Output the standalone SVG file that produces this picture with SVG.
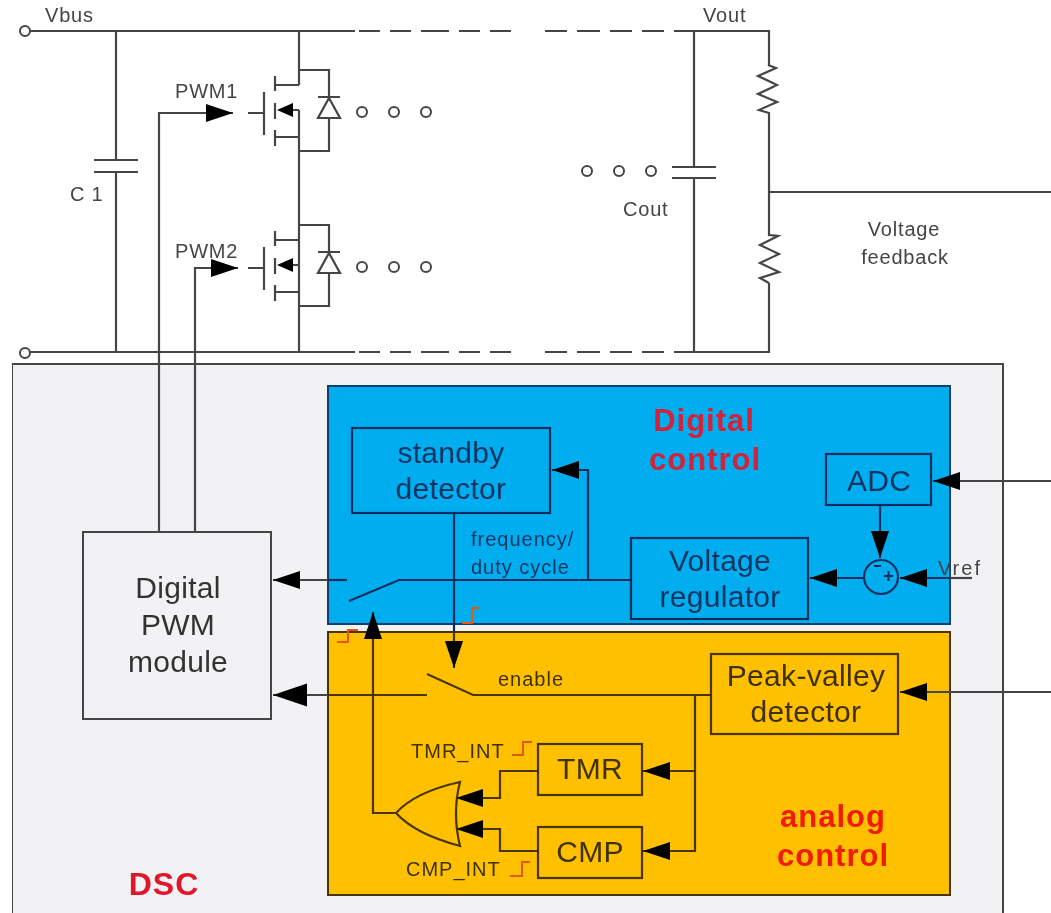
<svg xmlns="http://www.w3.org/2000/svg" width="1051" height="913" viewBox="0 0 1051 913">
<style>
text{font-family:"Liberation Sans",Arial,sans-serif}
.l{fill:none;stroke:#444;stroke-width:2.2}
.b{fill:none;stroke:#0c2f5e;stroke-width:2.2}
.o{fill:none;stroke:#4a3500;stroke-width:2.2}
.s{fill:none;stroke:#e8560a;stroke-width:2}
.t{font-size:20px;fill:#444;letter-spacing:.8px}
.tb{font-size:20px;fill:#0f3563;letter-spacing:1px}
.to{font-size:20px;fill:#3f3000;letter-spacing:1px}
.m{font-size:30px;text-anchor:middle;letter-spacing:.3px}
.r{font-weight:bold;text-anchor:middle;letter-spacing:1px}
.dot{fill:#fff;stroke:#444;stroke-width:2}
</style>
<defs>
<filter id="soft" x="0" y="0" width="100%" height="100%"><feGaussianBlur stdDeviation="0.5"/></filter>
<marker id="a" markerUnits="userSpaceOnUse" markerWidth="29" markerHeight="20" refX="27" refY="9" orient="auto"><path d="M0 0L27 9L0 18Z" fill="#000"/></marker>
<marker id="w" markerUnits="userSpaceOnUse" markerWidth="36" markerHeight="24" refX="34" refY="11.500" orient="auto"><path d="M0 0L34 11.500L0 23Z" fill="#000"/></marker>
<g id="mos">
<path class="l" d="M275 76V91M275 103V119M275 130V146M264 92V135M248 113H264M275 85H299M275 137H299M293 110H299"/>
<path d="M277 110L293 103V117Z" fill="#000"/>
<path class="l" d="M299 70H329V97M329 118V151H299M318 97H340"/>
<path class="l" d="M329 98L340 118H318Z"/>
<circle class="dot" cx="362" cy="112" r="5"/><circle class="dot" cx="394" cy="112" r="5"/><circle class="dot" cx="426" cy="112" r="5"/>
</g>
</defs>
<rect width="1051" height="913" fill="#fff"/>
<g filter="url(#soft)">
<g id="dsc"><rect x="12" y="364" width="991" height="570" fill="#f2f2f4" stroke="#444" stroke-width="2"/><text x="164" y="895" class="r" font-size="32" fill="#e0142a">DSC</text></g>
<g id="digital-control"><rect x="328" y="386" width="622" height="238" fill="#00aeef" stroke="#0c3f6e" stroke-width="2"/><text x="704" y="431" class="r" font-size="31" fill="#d4203a">Digital</text><text x="705" y="470" class="r" font-size="31" fill="#d4203a">control</text></g>
<g id="analog-control"><rect x="328" y="632" width="622" height="263" fill="#ffc000" stroke="#4a3500" stroke-width="2"/><text x="833" y="827" class="r" font-size="31" fill="#f01a00">analog</text><text x="833" y="866" class="r" font-size="31" fill="#f01a00">control</text></g>

<g id="connectors">
<path class="l" d="M30 31H355M359 31H380M390 31H411M421 31H449M459 31H480M490 31H511M545 31H567M577 31H600M610 31H632M642 31H664M674 31H769V65"/>
<path class="l" d="M30 352H355M359 352H380M390 352H411M421 352H449M459 352H480M490 352H511M545 352H567M577 352H600M610 352H632M642 352H664M674 352H769V283"/>
<path class="l" d="M116 31V160M116 172V352M94 160H138M94 172H138"/>
<path class="l" d="M694 31V167M694 178V352M672 167H716M672 178H716"/>
<path class="l" d="M768 65L776 68L758 76L777 85L758 94L777 102L759 110L769 113V235L778 236L760 245L779 254L760 263L779 272L760 278L769 283"/>
<path class="l" d="M769 192H1051"/>
<path class="l" d="M299 31V85M299 110V352"/>
<path class="l" marker-end="url(#a)" d="M159 532V113H233"/>
<path class="l" marker-end="url(#a)" d="M195 532V268H238"/>
<path class="l" marker-end="url(#a)" d="M1051 481H933"/>
<path class="l" marker-end="url(#a)" d="M1051 692H900"/>
<path class="b" marker-end="url(#a)" d="M880 505V558"/>
<path class="l" d="M972 578H950"/>
<path class="b" marker-end="url(#a)" d="M950 578H900"/>
<path class="b" marker-end="url(#a)" d="M864 578H810"/>
<path class="b" d="M631 580H399L349 601"/>
<path class="b" marker-end="url(#a)" d="M588 580V470H552"/>
<path class="b" d="M347 580H328"/>
<path class="l" marker-end="url(#a)" d="M328 580H273"/>
<path class="b" d="M454 513V632"/>
<path class="o" marker-end="url(#a)" d="M454 632V668"/>
<path class="o" d="M711 695H473L427 674"/>
<path class="o" d="M427 695H328"/>
<path class="l" marker-end="url(#w)" d="M328 695H273"/>
<path class="o" marker-end="url(#a)" d="M695 695V771H643"/>
<path class="o" marker-end="url(#a)" d="M695 771V851H643"/>
<path class="o" marker-end="url(#a)" d="M538 771H500V798H456"/>
<path class="o" marker-end="url(#a)" d="M538 851H500V829H456"/>
<path class="o" marker-end="url(#a)" d="M396 813H373V612"/>
<path class="s" d="M462 623H472V608H480M337 642H348V630H358M512 755H523V742H532M510 876H522V862H530"/>
</g>

<g id="q1"><use href="#mos"/></g>
<g id="q2"><use href="#mos" y="155"/></g>

<g id="c-dots"><circle class="dot" cx="587" cy="171" r="5"/><circle class="dot" cx="619" cy="171" r="5"/><circle class="dot" cx="651" cy="171" r="5"/></g>
<g id="vbus-term"><circle class="dot" cx="25" cy="31" r="5"/></g>
<g id="gnd-term"><circle class="dot" cx="25" cy="353" r="5"/></g>

<g id="labels">
<text x="45" y="22" class="t">Vbus</text>
<text x="175" y="98" class="t">PWM1</text>
<text x="175" y="258" class="t">PWM2</text>
<text x="70" y="201" class="t">C 1</text>
<text x="703" y="22" class="t">Vout</text>
<text x="623" y="216" class="t">Cout</text>
<text x="904" y="236" class="t" text-anchor="middle">Voltage</text>
<text x="905" y="264" class="t" text-anchor="middle">feedback</text>
<text x="471" y="546" class="tb">frequency/</text>
<text x="471" y="574" class="tb">duty cycle</text>
<text x="938" y="575" class="t" style="letter-spacing:2px">Vref</text>
<text x="498" y="686" class="to">enable</text>
<text x="411" y="758" class="to">TMR_INT</text>
<text x="406" y="876" class="to">CMP_INT</text>
</g>

<g id="standby"><rect x="352" y="428" width="198" height="85" class="b"/><text x="451" y="463" class="m" fill="#0f3563">standby</text><text x="451" y="499" class="m" fill="#0f3563">detector</text></g>
<g id="adc"><rect x="826" y="454" width="105" height="51" class="b"/><text x="879" y="491" class="m" fill="#0f3563">ADC</text></g>
<g id="regulator"><rect x="631" y="538" width="177" height="81" class="b"/><text x="720" y="571" class="m" fill="#0f3563">Voltage</text><text x="720" y="607" class="m" fill="#0f3563">regulator</text></g>
<g id="sum"><circle cx="881" cy="577" r="17" class="b"/><path class="b" stroke-width="1.5" d="M874 566H881M884 576H893M888.500 571V581"/></g>
<g id="pwm-module"><rect x="83" y="532" width="188" height="187" fill="#f2f2f4" stroke="#444" stroke-width="2"/><text x="178" y="598" class="m" fill="#333">Digital</text><text x="178" y="635" class="m" fill="#333">PWM</text><text x="178" y="672" class="m" fill="#333">module</text></g>
<g id="peak-valley"><rect x="711" y="654" width="187" height="80" class="o"/><text x="806" y="686" class="m" fill="#3f3000">Peak-valley</text><text x="806" y="722" class="m" fill="#3f3000">detector</text></g>
<g id="tmr"><rect x="538" y="744" width="104" height="51" class="o"/><text x="590" y="779" class="m" fill="#3f3000">TMR</text></g>
<g id="cmp"><rect x="538" y="827" width="104" height="51" class="o"/><text x="590" y="862" class="m" fill="#3f3000">CMP</text></g>
<g id="or-gate"><path class="o" d="M460 782Q452 813 460 846Q415 834 396 813Q415 792 460 782Z"/></g>
</g>
</svg>
